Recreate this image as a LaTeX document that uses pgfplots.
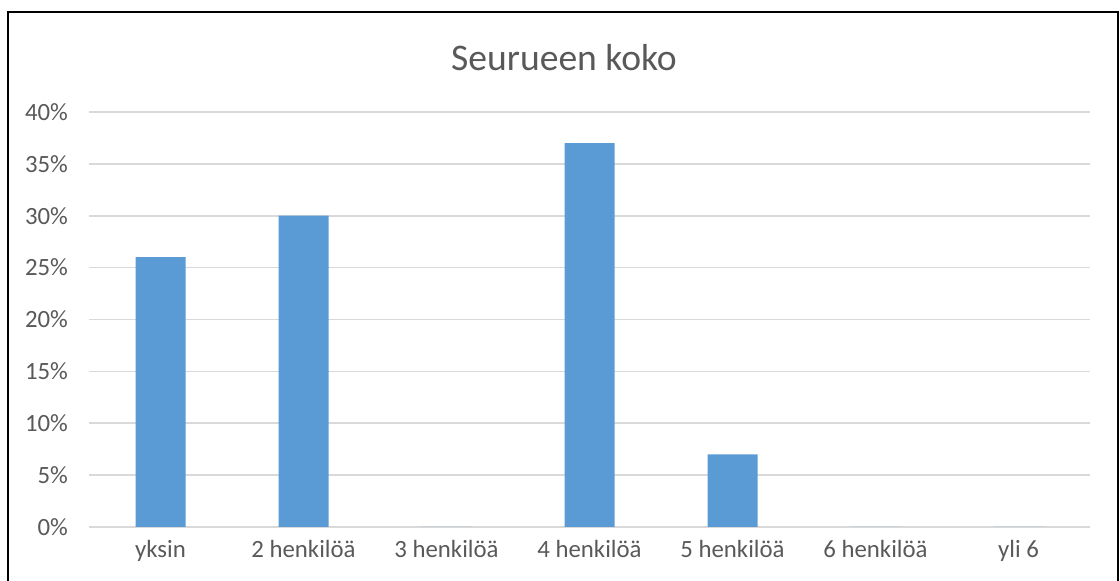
\documentclass[border=0pt]{standalone}
\usepackage{fontspec}
\setmainfont{Carlito}
\usepackage{pgfplots}
\pgfplotsset{compat=1.18}
\definecolor{barblue}{RGB}{91,155,213}
\definecolor{gridgray}{RGB}{217,217,217}
\definecolor{txtgray}{RGB}{89,89,89}
\begin{document}
\begin{tikzpicture}[x=0.5pt,y=0.5pt]
\useasboundingbox (0,0) rectangle (1120,581);
\begin{scope}
\clip (0,0) rectangle (1120,581);
\draw[black, line width=1.1pt] (8,-20) rectangle (1118,569);
\end{scope}
\node[font=\fontsize{18.8}{22}\selectfont, text=txtgray] at (564,523) {Seurueen koko};
\begin{axis}[
  at={(44.5pt,27pt)}, anchor=south west,
  scale only axis, width=500.5pt, height=207.5pt,
  xmin=-0.5, xmax=6.5, ymin=0, ymax=40,
  ytick={0,5,...,40},
  yticklabel={\pgfmathprintnumber{\tick}\%},
  xtick={0,...,6},
  xticklabels={yksin,2 henkilöä,3 henkilöä,4 henkilöä,5 henkilöä,6 henkilöä,yli 6},
  /pgf/number format/assume math mode=true,
  ticklabel style={font=\fontsize{12.4}{14}\selectfont, text=txtgray},
  yticklabel style={xshift=-7pt},
  xticklabel style={yshift=-3pt},
  major tick length=0pt,
  axis line style={draw=none},
  ymajorgrids, grid style={gridgray, line width=0.8pt},
  ybar, bar width=25pt,
]
\addplot[fill=barblue, draw=none] coordinates {(0,26) (1,30) (2,0) (3,37) (4,7) (5,0) (6,0)};
\end{axis}
\end{tikzpicture}
\end{document}
